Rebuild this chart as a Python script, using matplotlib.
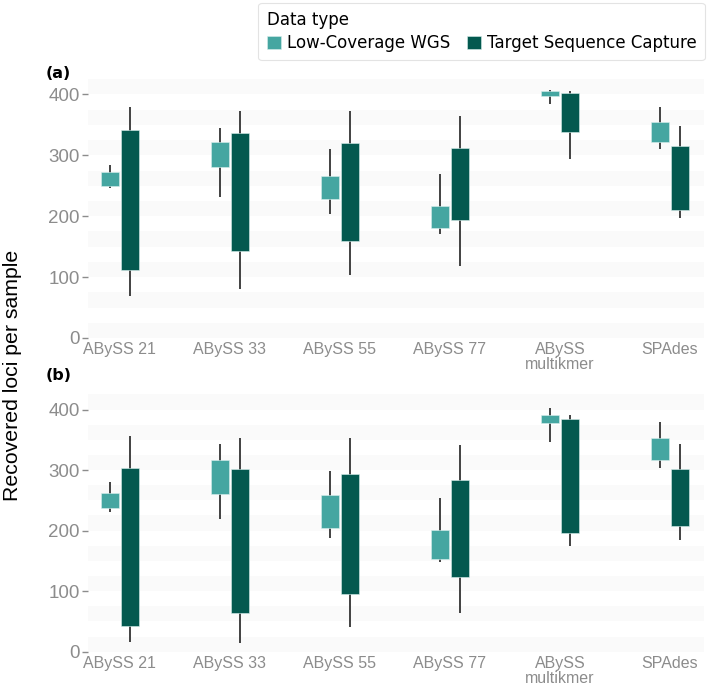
import matplotlib.pyplot as plt
import numpy as np

categories = ['ABySS 21', 'ABySS 33', 'ABySS 55', 'ABySS 77', 'ABySS\nmultikmer', 'SPAdes']
types = ['Low-Coverage WGS', 'Target Sequence Capture']
colors = ['#45a6a1', '#03594f']

# panel (a): whisker low, box low, box high, whisker high
a_wgs_lo = [247, 232, 203, 170, 384, 311]
a_wgs_q1 = [250, 281, 228, 180, 398, 321]
a_wgs_q3 = [272, 321, 266, 217, 405, 354]
a_wgs_hi = [284, 345, 310, 270, 407, 379]
a_tsc_lo = [69, 81, 104, 118, 294, 197]
a_tsc_q1 = [111, 142, 160, 194, 339, 210]
a_tsc_q3 = [341, 336, 320, 312, 403, 315]
a_tsc_hi = [380, 372, 372, 365, 405, 348]

# panel (b)
b_wgs_lo = [230, 219, 188, 148, 346, 304]
b_wgs_q1 = [238, 261, 205, 153, 378, 316]
b_wgs_q3 = [262, 316, 259, 201, 391, 353]
b_wgs_hi = [280, 343, 298, 254, 402, 380]
b_tsc_lo = [16, 15, 40, 64, 175, 185]
b_tsc_q1 = [42, 64, 95, 123, 196, 207]
b_tsc_q3 = [303, 301, 293, 284, 384, 302]
b_tsc_hi = [357, 353, 353, 342, 391, 343]

panels = [
    ('(a)', [(a_wgs_lo, a_wgs_q1, a_wgs_q3, a_wgs_hi), (a_tsc_lo, a_tsc_q1, a_tsc_q3, a_tsc_hi)]),
    ('(b)', [(b_wgs_lo, b_wgs_q1, b_wgs_q3, b_wgs_hi), (b_tsc_lo, b_tsc_q1, b_tsc_q3, b_tsc_hi)]),
]

fig = plt.figure(figsize=(7.09, 6.91), dpi=100)
rects = [[0.1241, 0.5109, 0.8689, 0.3763], [0.1241, 0.0569, 0.8689, 0.3741]]
tag_y = [0.894, 0.456]
x = np.arange(len(categories))
offsets = [-0.09, 0.09]
width = 0.16
handles = []

for rect, ty, (tag, series) in zip(rects, tag_y, panels):
    ax = fig.add_axes(rect)
    for k in range(9):
        ax.axhspan(50 * k, 50 * k + 25, color='#fafafa', lw=0, zorder=0)
    for off, col, (lo, q1, q3, hi) in zip(offsets, colors, series):
        ax.vlines(x + off, lo, hi, color='#333333', lw=1.3, zorder=2)
        b = ax.bar(x + off, np.array(q3) - np.array(q1), width, bottom=q1,
                   color=col, edgecolor='#d8eeec', lw=0.4, zorder=3)
        if tag == '(a)':
            handles.append(b)
    ax.set_xlim(-0.29, 5.31)
    ax.set_ylim(0, 427)
    ax.set_yticks([0, 100, 200, 300, 400])
    ax.set_xticks(x)
    ax.set_xticklabels(categories, family='Liberation Sans', fontsize=11.5,
                       color='#8c8c8c', linespacing=1.0, va='top')
    for lab in ax.get_yticklabels():
        lab.set_family('Liberation Sans')
        lab.set_fontsize(13.5)
        lab.set_color('#8c8c8c')
    ax.tick_params(axis='x', length=0, pad=3)
    ax.tick_params(axis='y', length=4, width=1, color='#8c8c8c', pad=2)
    for s in ax.spines.values():
        s.set_visible(False)
    fig.text(0.082, ty, tag, fontsize=11.5, fontweight='bold',
             ha='center', va='center')

fig.text(0.018, 0.457, 'Recovered loci per sample', rotation=90, ha='center',
         va='center', family='Liberation Sans', fontsize=15.3)

leg = fig.legend(handles, types, loc='upper right', bbox_to_anchor=(0.994, 0.996),
                 ncol=2, title='Data type', fontsize=12, title_fontsize=12,
                 frameon=True, handlelength=0.85, handleheight=0.85,
                 handletextpad=0.35, columnspacing=1.0, borderpad=0.5,
                 labelspacing=0.3, borderaxespad=0)
leg._legend_box.align = 'left'
leg.get_frame().set_edgecolor('#dddddd')
leg.get_frame().set_linewidth(0.8)

fig.savefig('out.png', dpi=100)
